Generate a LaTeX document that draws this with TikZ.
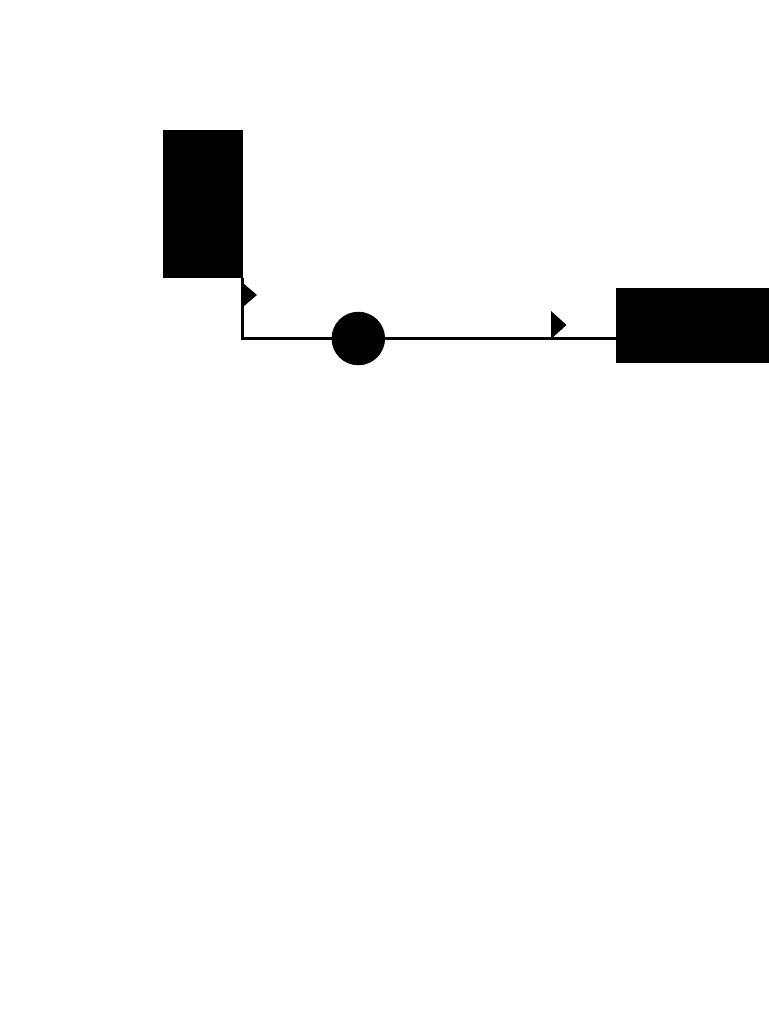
\documentclass[tikz,border=0pt]{standalone}
\usetikzlibrary{positioning}
\begin{document}
\begin{tikzpicture}[x=1pt,y=-1pt,
	block/.style={fill=black,inner sep=0pt,outer sep=0pt},
	dot/.style={circle,fill=black,inner sep=0pt,outer sep=0pt,minimum size=53.5pt}]
	\useasboundingbox (0,0) rectangle (768,1024);
	\node[block,minimum width=79.5pt,minimum height=148pt] at (202.75,204) (src) {};
	\node[block,minimum width=160pt,minimum height=74.5pt] at (695.5,325.5) (dst) {};
	\node[dot] at (358.3,338.5) (circ) {};
	\coordinate (bend) at (src.south east |- circ);
	\coordinate (end) at (dst.west |- circ);
	\coordinate (flag) at (551,339);
	\draw[line width=2.2pt] (src.south east) -- (bend) -- (circ) -- (end);
	\fill (src.south east) ++(-0.8,4) -- ++(15.3,13) -- ++(-15.3,13) -- cycle;
	\fill (flag) -- ++(0,-28) -- ++(15.5,14) -- cycle;
\end{tikzpicture}
\end{document}
